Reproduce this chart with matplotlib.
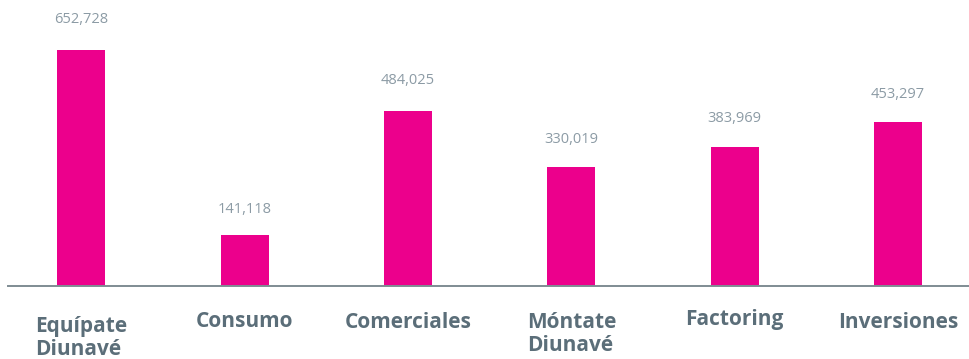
import matplotlib.pyplot as plt

categories = ["Equípate\nDiunavé", "Consumo", "Comerciales", "Móntate\nDiunavé", "Factoring", "Inversiones"]
values = [652728, 141118, 484025, 330019, 383969, 453297]
value_labels = ["652,728", "141,118", "484,025", "330,019", "383,969", "453,297"]

fig = plt.figure(figsize=(9.7, 3.59), dpi=100)
ax = fig.add_axes([8 / 970, 73 / 359, 962 / 970, 286 / 359])

x = list(range(len(values)))
ax.bar(x, values, width=0.294, color="#EC008C", zorder=2)

ax.set_xlim(-0.45, 5.441)
ax.set_ylim(0, 790900)

for s in ["top", "right", "left"]:
    ax.spines[s].set_visible(False)
ax.spines["bottom"].set_color("#7F8C93")
ax.spines["bottom"].set_linewidth(1.4)
ax.set_yticks([])
ax.set_xticks([])

# value labels over each bar (pixel gap between bar top and text centre)
value_gap = [30, 25, 30, 27, 29, 28]
for i, v in enumerate(values):
    ax.annotate(value_labels[i], (i, v), xytext=(0, value_gap[i]), textcoords="offset pixels",
                ha="center", va="center", fontsize=10.5, color="#8C9BA5",
                family="Open Sans")

# category labels under the axis (pixels below baseline)
label_drop = [30, 25, 26, 26, 23, 26]
for i, c in enumerate(categories):
    ax.annotate(c, (i, 0), xytext=(0, -label_drop[i]), textcoords="offset pixels",
                ha="center", va="top", multialignment="left", fontsize=15,
                fontweight="bold", color="#5B6E79", family="Open Sans",
                linespacing=1.15, annotation_clip=False)

fig.savefig("out.png", dpi=100)
